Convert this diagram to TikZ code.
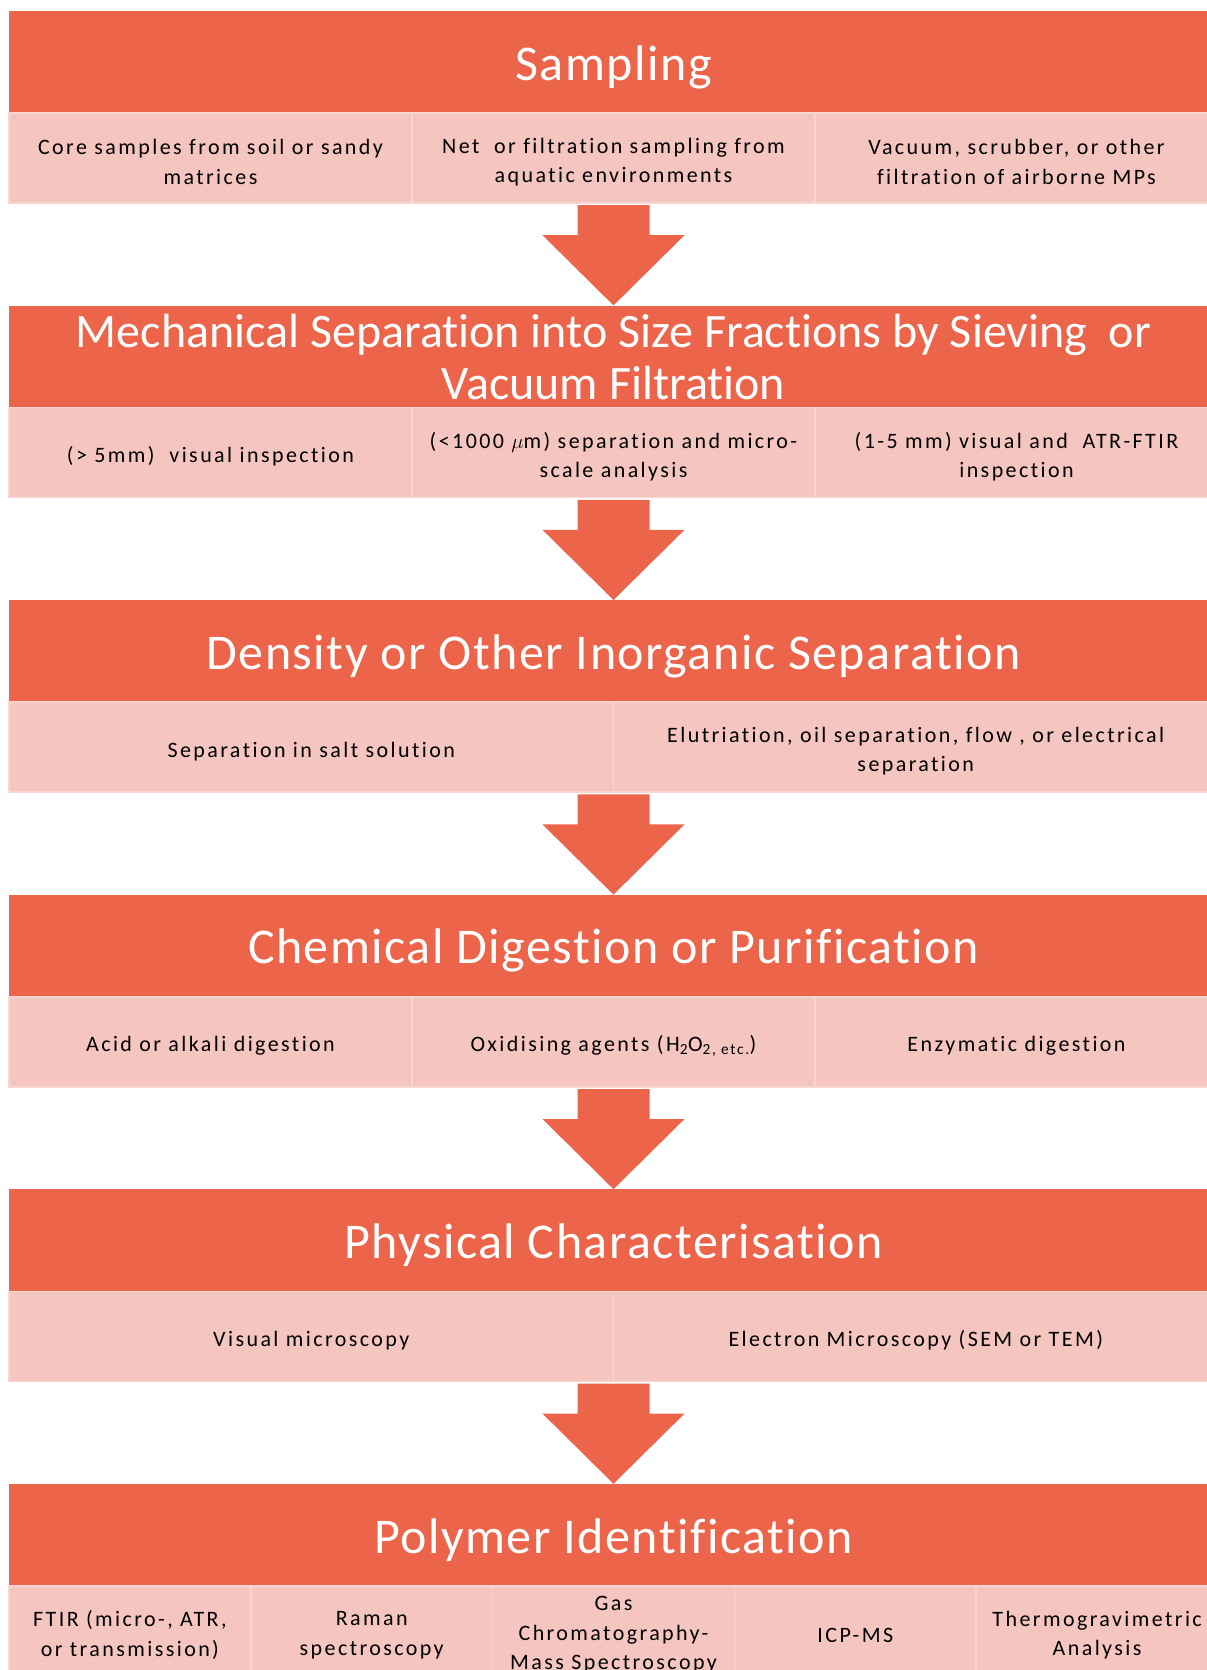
\documentclass[tikz,border=0pt]{standalone}
\usepackage{fontspec}
\setmainfont{Carlito}
\newfontfamily\subfont{Carlito}[LetterSpace=11,Ligatures=NoCommon]
\newfontfamily\headfont{Carlito}[LetterSpace=3,Ligatures=NoCommon]
\newfontfamily\headnarrowfont{Carlito}[Ligatures=NoCommon]
\usetikzlibrary{calc}
\definecolor{redc}{HTML}{EC644A}
\definecolor{pinkc}{HTML}{F5C5BF}
\definecolor{pinkedge}{HTML}{F9D6D1}
\tikzset{
 titlebox/.style={fill=redc, minimum width=1209pt, minimum height=102pt, inner sep=0pt, text=white, align=center, font=\headfont\fontsize{50}{52}\selectfont},
 cellbox/.style={fill=pinkc, draw=pinkedge, line width=1.5pt, minimum height=90pt, inner sep=0pt},
 celltext/.style={inner sep=0pt, align=center, font=\subfont\fontsize{22}{29.5}\selectfont},
 cellthree/.style={cellbox, minimum width=403pt},
 celltwo/.style={cellbox, minimum width=604.5pt},
 cellfive/.style={cellbox, minimum width=241.8pt},
}
\newcommand\blockarrow[2]{\fill[redc] ($(#1.south)+(-36,92)$) -- ($(#1.south)+(36,92)$) -- ($(#1.south)+(36,122)$) -- ($(#1.south)+(71,122)$) -- (#2.north) -- ($(#1.south)+(-71,122)$) -- ($(#1.south)+(-36,122)$) -- cycle;}
% cell: style, name, position, text
\newcommand\cellnode[4]{\node[#1] (#2) at (#3) {}; \node[celltext] (#2txt) at ($(#2.center)+(0,4)$) {#4};}
\newcommand\lowtitle[1]{\raisebox{-5pt}[\height][\depth]{#1}}
\begin{document}
\begin{tikzpicture}[x=1pt,y=-1pt]
\useasboundingbox (0,0) rectangle (1207,1670);
\clip (0,0) rectangle (1207,1670);
% Stage 1
\node[titlebox] (t1) at (613.5,62) {\lowtitle{Sampling}};
\cellnode{cellthree}{c11}{210.5,158}{Core samples from soil or sandy\\matrices}
\cellnode{cellthree}{c12}{613.5,158}{Net\ \ or filtration sampling from\\aquatic environments}
\cellnode{cellthree}{c13}{1016.5,158}{Vacuum, scrubber, or other\\filtration of airborne MPs}
% Stage 2
\node[titlebox, font=\headnarrowfont\fontsize{48}{52}\selectfont] (t2) at (613.5,356.6) {Mechanical Separation into Size Fractions by Sieving\ \ or\\Vacuum Filtration};
\cellnode{cellthree}{c21}{210.5,452.6}{(> 5mm)\ \ visual inspection}
\cellnode{cellthree}{c22}{613.5,452.6}{(<1000 $\mu$m) separation and micro-\\scale analysis}
\cellnode{cellthree}{c23}{1016.5,452.6}{(1-5 mm) visual and\ \ ATR-FTIR\\inspection}
% Stage 3
\node[titlebox] (t3) at (613.5,651.2) {\lowtitle{Density or Other Inorganic Separation}};
\cellnode{celltwo}{c31}{311.25,747.2}{Separation in salt solution}
\cellnode{celltwo}{c32}{915.75,747.2}{Elutriation, oil separation, flow , or electrical\\separation}
% Stage 4
\node[titlebox] (t4) at (613.5,945.8) {\lowtitle{Chemical Digestion or Purification}};
\cellnode{cellthree}{c41}{210.5,1041.8}{Acid or alkali digestion}
\cellnode{cellthree}{c42}{613.5,1041.8}{Oxidising agents (H\textsubscript{2}O\textsubscript{2, etc.})}
\cellnode{cellthree}{c43}{1016.5,1041.8}{Enzymatic digestion}
% Stage 5
\node[titlebox] (t5) at (613.5,1240.4) {\lowtitle{Physical Characterisation}};
\cellnode{celltwo}{c51}{311.25,1336.4}{Visual microscopy}
\cellnode{celltwo}{c52}{915.75,1336.4}{Electron Microscopy (SEM or TEM)}
% Stage 6
\node[titlebox] (t6) at (613.5,1535) {\lowtitle{Polymer Identification}};
\cellnode{cellfive}{c61}{129.9,1631}{FTIR (micro-, ATR,\\or transmission)}
\cellnode{cellfive}{c62}{371.7,1631}{Raman\\spectroscopy}
\cellnode{cellfive}{c63}{613.5,1631}{Gas\\Chromatography-\\Mass Spectroscopy}
\cellnode{cellfive}{c64}{855.3,1631}{ICP-MS}
\cellnode{cellfive}{c65}{1097.1,1631}{Thermogravimetric\\Analysis}
% Arrows
\blockarrow{t1}{t2}
\blockarrow{t2}{t3}
\blockarrow{t3}{t4}
\blockarrow{t4}{t5}
\blockarrow{t5}{t6}
\end{tikzpicture}
\end{document}
